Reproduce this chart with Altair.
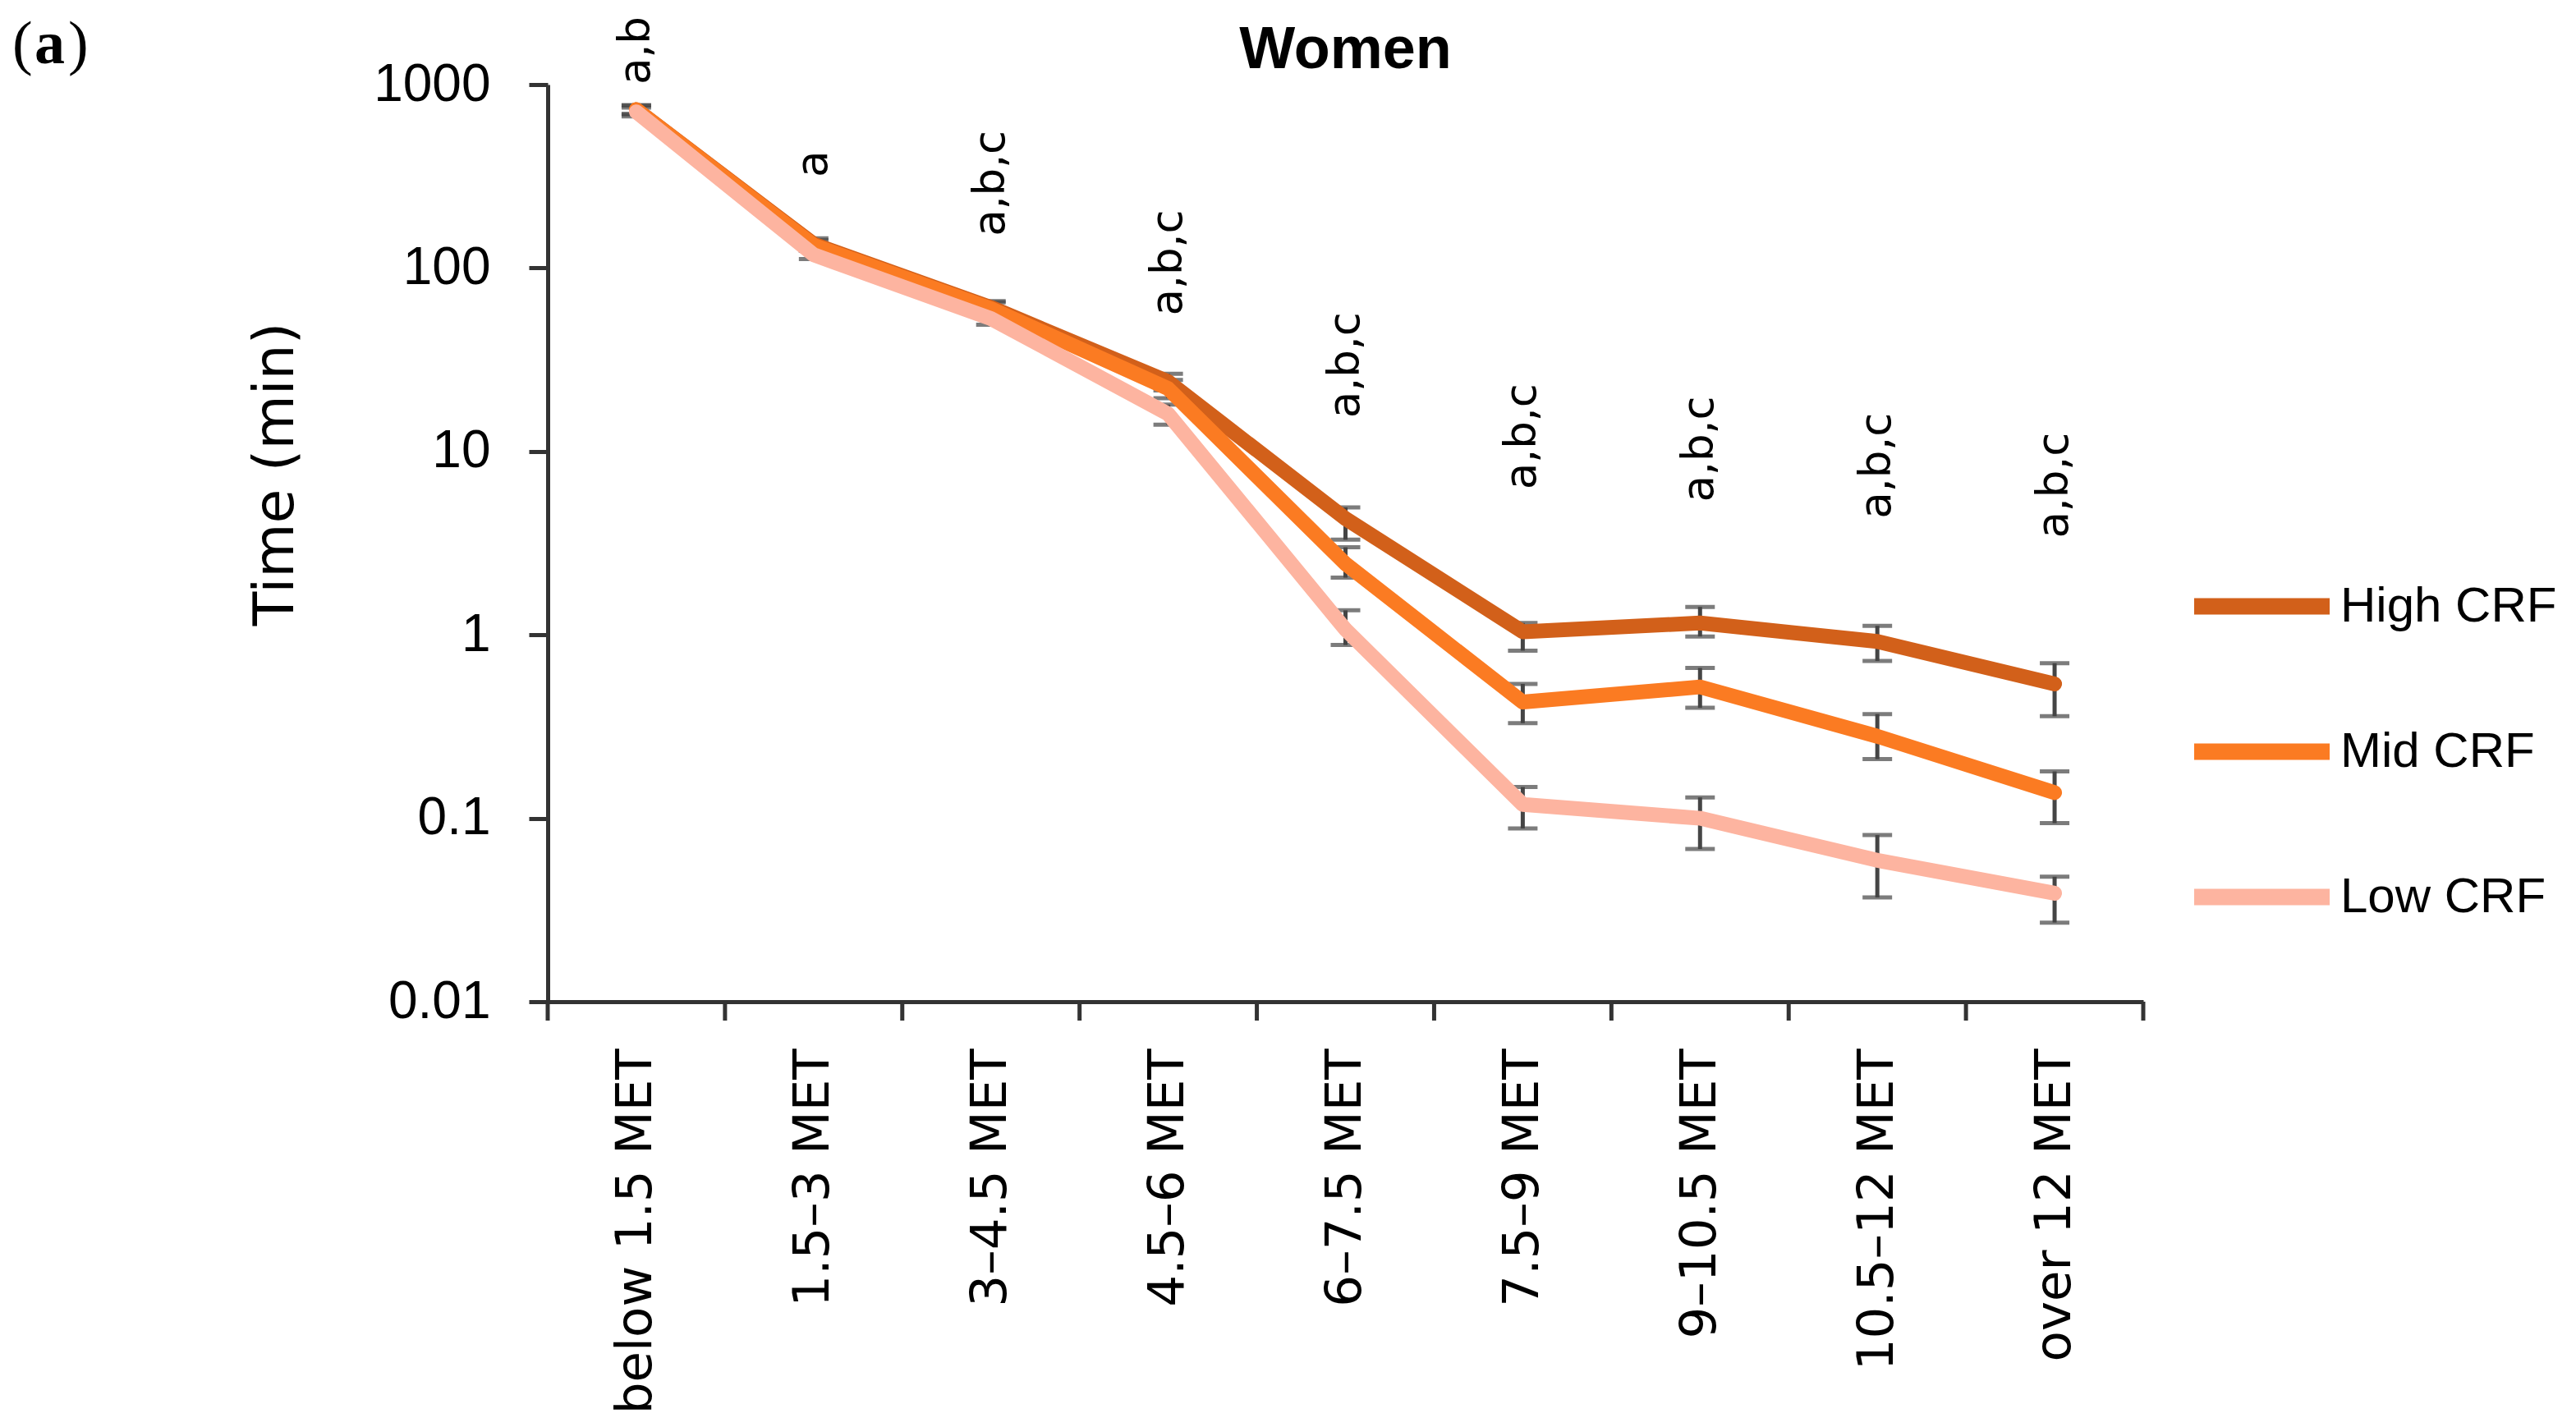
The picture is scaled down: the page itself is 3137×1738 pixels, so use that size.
import altair as alt
import pandas as pd

categories = ["below 1.5 MET", "1.5–3 MET", "3–4.5 MET", "4.5–6 MET", "6–7.5 MET",
              "7.5–9 MET", "9–10.5 MET", "10.5–12 MET", "over 12 MET"]
series_names = ["High CRF", "Mid CRF", "Low CRF"]
series_colors = ["#D2601A", "#FB7B22", "#FDB4A0"]

high = [730, 135, 61, 24, 4.3, 1.04, 1.16, 0.92, 0.54]
high_lo = [690, 125, 56, 21.5, 3.3, 0.82, 0.98, 0.72, 0.36]
high_hi = [770, 145, 66, 26.5, 4.95, 1.16, 1.42, 1.12, 0.70]

mid = [730, 133, 60, 22, 2.44, 0.43, 0.52, 0.28, 0.138]
mid_lo = [690, 124, 55, 19.5, 2.05, 0.33, 0.40, 0.21, 0.094]
mid_hi = [770, 142, 65, 24.5, 3.0, 0.54, 0.66, 0.37, 0.18]

low = [710, 118, 53, 16, 1.07, 0.119, 0.10, 0.059, 0.039]
low_lo = [670, 112, 49, 14, 0.88, 0.088, 0.068, 0.037, 0.027]
low_hi = [750, 125, 57, 18, 1.36, 0.148, 0.13, 0.081, 0.048]

sig_labels = ["a,b", "a", "a,b,c", "a,b,c", "a,b,c", "a,b,c", "a,b,c", "a,b,c", "a,b,c"]
sig_label_base = [1000, 312, 149, 55, 15.2, 6.2, 5.3, 4.3, 3.36]

y_ticks = [0.01, 0.1, 1, 10, 100, 1000]
chart_title = "Women"
panel_parts = ["(", "a", ")"]
panel_weights = ["normal", "bold", "normal"]

rows = []
for name, vals, los, his in [("High CRF", high, high_lo, high_hi),
                             ("Mid CRF", mid, mid_lo, mid_hi),
                             ("Low CRF", low, low_lo, low_hi)]:
    for i, (v, lo, hi) in enumerate(zip(vals, los, his)):
        rows.append({"series": name, "idx": i, "value": v, "lo": lo, "hi": hi})
df = pd.DataFrame(rows)
ann = pd.DataFrame({"idx": list(range(len(categories))), "label": sig_labels, "value": sig_label_base})
bounds = pd.DataFrame({"idx": [i - 0.5 for i in range(len(categories) + 1)]})

W, H = 1943, 1117
AXIS_COLOR = "#333333"
ERR_COLOR = "#454545"

label_expr = "[" + ",".join("'" + c + "'" for c in categories) + "][datum.value]"

xscale = alt.Scale(domain=[-0.5, len(categories) - 0.5], nice=False, zero=False)
yscale = alt.Scale(type="log", domain=[0.01, 1000], nice=False)

x_axis = alt.Axis(values=list(range(len(categories))), labelExpr=label_expr, ticks=False, tickSize=0,
                  labelAngle=270, labelAlign="right", labelBaseline="middle", labelPadding=57,
                  labelFont="DejaVu Sans", labelFontSize=61, labelColor="black", labelLimit=0,
                  labelOverlap=False, labelFlush=False, labelBound=False, grid=False, title=None,
                  domainColor=AXIS_COLOR, domainWidth=5)
y_axis = alt.Axis(values=y_ticks, format="~g", tickSize=23, tickWidth=5, tickColor=AXIS_COLOR,
                  labelPadding=47, labelFont="Liberation Sans", labelFontSize=64, labelColor="black",
                  labelOverlap=False, labelFlush=False, labelBound=False, grid=False,
                  domainColor=AXIS_COLOR, domainWidth=5,
                  title="Time (min)", titleFont="DejaVu Sans", titleFontSize=68, titleFontWeight="normal",
                  titleColor="black", titleAngle=270, titleAlign="center", titleBaseline="middle",
                  titleX=-331, titleY=474)

X = alt.X("idx:Q", scale=xscale, axis=x_axis)

err_rule = alt.Chart(df).mark_rule(color=ERR_COLOR, strokeWidth=5).encode(
    x=X,
    y=alt.Y("lo:Q", scale=yscale, axis=y_axis),
    y2="hi:Q",
)
err_lo = alt.Chart(df).mark_tick(color=ERR_COLOR, orient="horizontal", size=36, thickness=5).encode(
    x=X, y=alt.Y("lo:Q", scale=yscale, axis=y_axis)
)
err_hi = alt.Chart(df).mark_tick(color=ERR_COLOR, orient="horizontal", size=36, thickness=5).encode(
    x=X, y=alt.Y("hi:Q", scale=yscale, axis=y_axis)
)

lines = alt.Chart(df).mark_line(strokeWidth=18, strokeJoin="round", strokeCap="round").encode(
    x=X,
    y=alt.Y("value:Q", scale=yscale, axis=y_axis),
    color=alt.Color("series:N",
                    scale=alt.Scale(domain=series_names, range=series_colors),
                    legend=alt.Legend(title=None, orient="none", legendX=1995, legendY=543,
                                      symbolType="stroke", symbolSize=27225, symbolStrokeWidth=20,
                                      labelFont="Liberation Sans", labelFontSize=60, labelColor="black",
                                      labelOffset=3, rowPadding=44, padding=0, labelLimit=0)),
    order=alt.Order("idx:Q"),
)

sig = alt.Chart(ann).mark_text(angle=270, align="left", baseline="middle",
                               font="DejaVu Sans", fontSize=53, color="black").encode(
    x=X,
    y=alt.Y("value:Q", scale=yscale, axis=y_axis),
    text="label:N",
)

xticks = alt.Chart(bounds).mark_rule(color=AXIS_COLOR, strokeWidth=5).encode(
    x=X,
    y=alt.value(H),
    y2=alt.value(H + 23),
)

title_mark = alt.Chart(pd.DataFrame({"t": [chart_title]})).mark_text(
    font="Liberation Sans", fontSize=72, fontWeight="bold", align="center", baseline="alphabetic",
    color="black"
).encode(x=alt.value(W / 2), y=alt.value(-20), text="t:N")

panel_layers = []
for part, weight, px in zip(panel_parts, panel_weights, [-652, -625, -584]):
    panel_layers.append(
        alt.Chart(pd.DataFrame({"t": [part]})).mark_text(
            font="Liberation Serif", fontSize=74, fontWeight=weight, align="left",
            baseline="alphabetic", color="black"
        ).encode(x=alt.value(px), y=alt.value(-26), text="t:N")
    )

chart = alt.layer(err_rule, err_lo, err_hi, lines, sig, xticks, title_mark, *panel_layers).properties(
    width=W, height=H,
    background="white",
    autosize=alt.AutoSizeParams(type="none"),
    padding={"left": 659, "top": 95, "right": 515, "bottom": 510},
).configure(
    view=alt.ViewConfig(stroke="transparent", strokeWidth=0, strokeOpacity=0),
    style={"cell": {"stroke": "transparent", "strokeWidth": 0, "strokeOpacity": 0}},
)

chart.save("out.html", embed_options={"renderer": "svg", "actions": False})
